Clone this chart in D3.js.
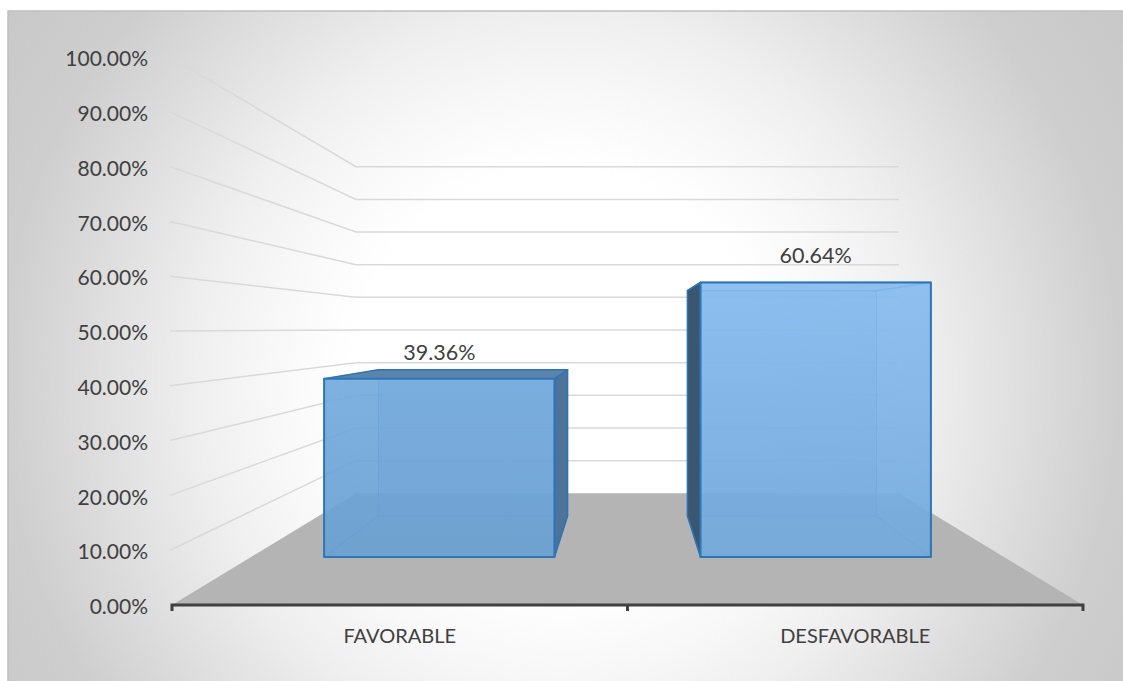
<!DOCTYPE html>
<html>
<head>
<meta charset="utf-8">
<script src="https://cdn.jsdelivr.net/npm/d3@7"></script>
<style>
  html, body { margin: 0; padding: 0; background: #ffffff; }
  svg { display: block; }
  text { font-family: Lato, "Open Sans", sans-serif; fill: #404040; }
</style>
</head>
<body>
<svg id="chart" width="1123" height="681"></svg>
<script>
// ---- data ----
const categories = ["FAVORABLE", "DESFAVORABLE"];
const values = [0.3936, 0.6064];
const valueLabels = ["39.36%", "60.64%"];
const yTickValues = [0, 0.1, 0.2, 0.3, 0.4, 0.5, 0.6, 0.7, 0.8, 0.9, 1.0];

// ---- layout ----
const W = 1123, H = 681;
const svg = d3.select("#chart");
const frontLeft = 172, frontRight = 1083, baseY = 605, topY = 57;
const backScale = 0.596;              // size of the back wall relative to front plane
const kDepth = 1 / backScale - 1;
const vpY = 328.6;                     // eye level (vanishing point y)
const barDepth = [0.31, 0.70];         // depth range occupied by bars
const barWidthFrac = 0.612;

const x = d3.scaleBand().domain(categories).range([frontLeft, frontRight]).padding(0);
const y = d3.scaleLinear().domain([0, 1]).range([baseY, topY]);
const vpX = (frontLeft + frontRight) / 2;

function proj(X, Y, d) {
  const f = 1 / (1 + kDepth * d);
  return [vpX + (X - vpX) * f, vpY + (Y - vpY) * f];
}
const line = d3.line();

// ---- background ----
const defs = svg.append("defs");
const bg = defs.append("radialGradient").attr("id", "bgGrad")
  .attr("gradientUnits", "userSpaceOnUse").attr("cx", 560).attr("cy", 380).attr("r", 700);
[[0, "#ffffff"], [0.3, "#ffffff"], [0.41, "#f8f8f8"], [0.52, "#efefef"], [0.8, "#cecece"], [0.96, "#c8c8c8"], [1, "#c6c6c6"]]
  .forEach(([o, c]) => bg.append("stop").attr("offset", o).attr("stop-color", c));

svg.append("rect").attr("x", 8).attr("y", 11).attr("width", W).attr("height", H)
  .attr("fill", "url(#bgGrad)").attr("stroke", "#bfbfbf").attr("stroke-width", 1.5);

// ---- floor ----
const floorPts = [proj(frontLeft, y(0), 0), proj(frontLeft, y(0), 1), proj(frontRight, y(0), 1), proj(frontRight, y(0), 0)];
svg.append("path").attr("d", line(floorPts) + "Z").attr("fill", "#b4b4b4");

// ---- gridlines (side wall + back wall) ----
const grid = svg.append("g").attr("fill", "none").attr("stroke", "#d9d9d9").attr("stroke-width", 1.5);
yTickValues.filter(v => v > 0).forEach(v => {
  const pts = [[frontLeft - 2, y(v)], proj(frontLeft, y(v), 1), proj(frontRight, y(v), 1)];
  grid.append("path").attr("d", line(pts));
});

// ---- y axis labels ----
const fmt = d3.format(".2%");
svg.append("g").selectAll("text").data(yTickValues).join("text")
  .attr("x", 148).attr("y", d => y(d)).attr("dy", "0.44em")
  .attr("text-anchor", "end").attr("font-size", 21)
  .text(d => fmt(d));

// ---- x axis ----
const xAxis = svg.append("g").attr("transform", `translate(0,${baseY})`)
  .call(d3.axisBottom(x).tickSize(6).tickSizeOuter(6).tickFormat("").tickValues([]));
xAxis.select(".domain").attr("stroke", "#404040").attr("stroke-width", 3)
  .attr("d", `M${frontLeft},6V0H${frontRight}V6`);
// tick at category boundary
svg.append("g").selectAll("line").data([categories[1]]).join("line")
  .attr("x1", d => x(d)).attr("x2", d => x(d)).attr("y1", baseY).attr("y2", baseY + 6)
  .attr("stroke", "#404040").attr("stroke-width", 3);

svg.append("g").selectAll("text").data(categories).join("text")
  .attr("x", d => x(d) + x.bandwidth() / 2).attr("y", 643)
  .attr("text-anchor", "middle").attr("font-size", 20)
  .text(d => d);

// ---- bars ----
const sideColors = ["#4d7399", "#3b5670"];
const frontTops = ["#74aade", "#88bcef"];
const frontBots = ["#6aa0d2", "#73a9dc"];
categories.forEach((c, i) => {
  const g = defs.append("linearGradient").attr("id", "fg" + i).attr("x1", 0).attr("y1", 0).attr("x2", 0).attr("y2", 1);
  g.append("stop").attr("offset", 0).attr("stop-color", frontTops[i]);
  g.append("stop").attr("offset", 1).attr("stop-color", frontBots[i]);
});

const bars = svg.append("g");
categories.forEach((c, i) => {
  const bw = x.bandwidth() * barWidthFrac;
  const x0 = x(c) + (x.bandwidth() - bw) / 2, x1 = x0 + bw;
  const yt = y(values[i]), yb = y(0);
  const [da, db] = barDepth;
  const FTL = proj(x0, yt, da), FTR = proj(x1, yt, da), FBL = proj(x0, yb, da), FBR = proj(x1, yb, da);
  const BTL = proj(x0, yt, db), BTR = proj(x1, yt, db), BBL = proj(x0, yb, db), BBR = proj(x1, yb, db);
  const g = bars.append("g");
  const leftVisible = x0 > vpX;
  // back face
  g.append("path").attr("d", line([BTL, BTR, BBR, BBL]) + "Z")
    .attr("fill", "#5b9bd5").attr("fill-opacity", 0.45)
    .attr("stroke", "#2e75b6").attr("stroke-opacity", 0.5).attr("stroke-width", 1);
  // bottom face
  g.append("path").attr("d", line([FBL, FBR, BBR, BBL]) + "Z")
    .attr("fill", "#5b9bd5").attr("fill-opacity", 0.2)
    .attr("stroke", "#2e75b6").attr("stroke-opacity", 0.5).attr("stroke-width", 1);
  // hidden side face
  const hidden = leftVisible ? [FTR, BTR, BBR, FBR] : [FTL, BTL, BBL, FBL];
  g.append("path").attr("d", line(hidden) + "Z")
    .attr("fill", "#5b9bd5").attr("fill-opacity", 0.2)
    .attr("stroke", "#2e75b6").attr("stroke-opacity", 0.5).attr("stroke-width", 1);
  // top face
  const topAbove = BTL[1] < FTL[1];
  g.append("path").attr("d", line([FTL, FTR, BTR, BTL]) + "Z")
    .attr("fill", topAbove ? "#5b84ad" : "#5b9bd5").attr("fill-opacity", topAbove ? 1 : 0.3)
    .attr("stroke", "#2e75b6").attr("stroke-width", 1.5).attr("stroke-linejoin", "round");
  // visible side face
  const vis = leftVisible ? [FTL, BTL, BBL, FBL] : [FTR, BTR, BBR, FBR];
  g.append("path").attr("d", line(vis) + "Z")
    .attr("fill", sideColors[i])
    .attr("stroke", "#2e75b6").attr("stroke-width", 1.5).attr("stroke-linejoin", "round");
  // front face
  g.append("path").attr("d", line([FTL, FTR, FBR, FBL]) + "Z")
    .attr("fill", `url(#fg${i})`).attr("fill-opacity", 0.9)
    .attr("stroke", "#2e75b6").attr("stroke-width", 2).attr("stroke-linejoin", "round");
  // value label
  svg.append("text").attr("x", (FTL[0] + FTR[0]) / 2).attr("y", FTL[1] - 19)
    .attr("text-anchor", "middle").attr("font-size", 21.5)
    .text(valueLabels[i]);
});
</script>
</body>
</html>
